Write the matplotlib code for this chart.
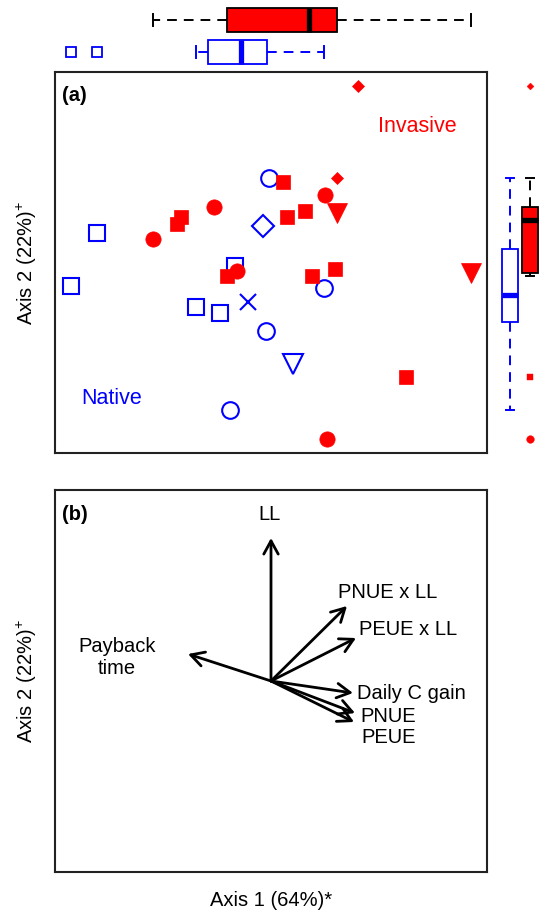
import numpy as np
import matplotlib
matplotlib.use("Agg")
import matplotlib.pyplot as plt

plt.rcParams['font.family'] = ['Liberation Sans', 'DejaVu Sans']
plt.rcParams['mathtext.fontset'] = 'custom'
plt.rcParams['mathtext.rm'] = 'Liberation Sans'
plt.rcParams['mathtext.it'] = 'Liberation Sans:italic'
plt.rcParams['mathtext.bf'] = 'Liberation Sans:bold'

# ---------------- data ----------------
# Invasive species scores (Axis 1, Axis 2) and species symbol
inv_x = [0.88, 0.67, 0.13, 0.55, -0.57, -0.90, -0.94, 0.17, 0.35, 0.67,
         -1.18, -0.34, -0.44, 0.42, 0.65, 2.01, 1.36, 0.57]
inv_y = [1.75, 0.84, 0.80, 0.67, 0.55, 0.45, 0.38, 0.45, 0.51, 0.49,
         0.23, -0.09, -0.14, -0.14, -0.07, -0.11, -1.14, -1.76]
inv_shape = ['diamond', 'diamond', 'square', 'circle', 'circle', 'square', 'square',
             'square', 'square', 'triangle', 'circle', 'circle', 'square', 'square',
             'square', 'triangle', 'square', 'circle']

# Native species scores
nat_x = [-0.02, -0.08, -1.74, -0.36, -2.00, 0.54, -0.75, -0.51, -0.23, -0.05, 0.23, -0.41]
nat_y = [0.84, 0.36, 0.29, -0.04, -0.24, -0.26, -0.45, -0.51, -0.40, -0.69, -1.01, -1.47]
nat_shape = ['circle', 'diamond', 'square', 'square', 'square', 'circle', 'square',
             'square', 'cross', 'circle', 'triangle', 'circle']

# Trait vectors (panel b)
vec_names = ['LL', 'PNUE x LL', 'PEUE x LL', 'Payback\ntime', 'Daily C gain', 'PNUE', 'PEUE']
vec_x = [0.00, 0.76, 0.85, -0.83, 0.82, 0.84, 0.83]
vec_y = [1.43, 0.75, 0.43, 0.27, -0.12, -0.32, -0.41]

group_labels = ['Native', 'Invasive']
axis1_label = 'Axis 1 (64%)*'
axis2_label = 'Axis 2 (22%)$^{+}$'

# ---------------- layout ----------------
W, H = 541, 914
RED = '#FF0000'
BLUE = '#0000FF'
FS = 14.5
FS_GROUP = 15.5


def fig_rect(x0, y0, x1, y1):
    return [x0 / W, 1 - y1 / H, (x1 - x0) / W, (y1 - y0) / H]


fig = plt.figure(figsize=(W / 100, H / 100), dpi=100)
ax_a = fig.add_axes(fig_rect(55, 72, 487, 453))
ax_b = fig.add_axes(fig_rect(55, 490, 487, 872))
ax_top = fig.add_axes(fig_rect(55, 4, 487, 68))
ax_rt = fig.add_axes(fig_rect(500, 72, 540, 453))

# styles per species symbol
inv_style = {
    'square': dict(marker='s', ms=10.5, mfc=RED, mec=RED, mew=0.5),
    'circle': dict(marker='o', ms=11, mfc=RED, mec=RED, mew=0.5),
    'triangle': dict(marker='v', ms=15, mfc=RED, mec=RED, mew=0.5),
    'diamond': dict(marker='D', ms=6.5, mfc=RED, mec=RED, mew=0.5),
}
nat_style = {
    'square': dict(marker='s', ms=11, mfc='none', mec=BLUE, mew=1.5),
    'circle': dict(marker='o', ms=12, mfc='none', mec=BLUE, mew=1.5),
    'triangle': dict(marker='v', ms=15, mfc='none', mec=BLUE, mew=1.5),
    'diamond': dict(marker='D', ms=11.5, mfc='none', mec=BLUE, mew=1.5),
    'cross': dict(marker='x', ms=12, mfc='none', mec=BLUE, mew=1.5),
}
inv_small = {
    'square': dict(marker='s', ms=5, mfc=RED, mec=RED, mew=0.3),
    'circle': dict(marker='o', ms=5.5, mfc=RED, mec=RED, mew=0.3),
    'triangle': dict(marker='v', ms=6, mfc=RED, mec=RED, mew=0.3),
    'diamond': dict(marker='D', ms=3.5, mfc=RED, mec=RED, mew=0.3),
}
nat_small = {
    'square': dict(marker='s', ms=6.5, mfc='none', mec=BLUE, mew=1.3),
    'circle': dict(marker='o', ms=6.5, mfc='none', mec=BLUE, mew=1.3),
    'triangle': dict(marker='v', ms=7, mfc='none', mec=BLUE, mew=1.3),
    'diamond': dict(marker='D', ms=6, mfc='none', mec=BLUE, mew=1.3),
    'cross': dict(marker='x', ms=6.5, mfc='none', mec=BLUE, mew=1.3),
}


def pad_lim(*arrays):
    v = np.concatenate([np.asarray(a, float) for a in arrays])
    lo, hi = v.min(), v.max()
    p = 0.04 * (hi - lo)
    return lo - p, hi + p


def r_box_stats(v):
    x = np.sort(np.asarray(v, float))
    n = len(x)
    n4 = np.floor((n + 3) / 2) / 2
    d = np.array([1, n4, (n + 1) / 2, n + 1 - n4, n]) - 1
    fn = 0.5 * (x[np.floor(d).astype(int)] + x[np.ceil(d).astype(int)])
    iqr = fn[3] - fn[1]
    vv = np.asarray(v, float)
    out = (vv < fn[1] - 1.5 * iqr) | (vv > fn[3] + 1.5 * iqr)
    inside = vv[~out]
    st = dict(med=fn[2], q1=fn[1], q3=fn[3], whislo=inside.min(), whishi=inside.max(), fliers=[])
    return st, out


# ---------------- panel (a) ----------------
xlim_a = pad_lim(inv_x, nat_x)
ylim_a = pad_lim(inv_y, nat_y)
for x, y, s in zip(nat_x, nat_y, nat_shape):
    ax_a.plot([x], [y], linestyle='none', **nat_style[s])
for x, y, s in zip(inv_x, inv_y, inv_shape):
    ax_a.plot([x], [y], linestyle='none', **inv_style[s])
ax_a.set_xlim(xlim_a)
ax_a.set_ylim(ylim_a)
ax_a.set_xticks([])
ax_a.set_yticks([])
ax_a.text(1.47, 1.35, group_labels[1], color=RED, fontsize=FS_GROUP, ha='center', va='center')
ax_a.text(-1.59, -1.36, group_labels[0], color=BLUE, fontsize=FS_GROUP, ha='center', va='center')
ax_a.text(0.016, 0.962, '(a)', transform=ax_a.transAxes, fontsize=FS, fontweight='bold',
          ha='left', va='top')

# ---------------- marginal boxplots ----------------
dash = (0, (5, 3.6))


def draw_box(ax, values, shapes, pos, color, face, edge, orient, small):
    st, out = r_box_stats(values)
    ax.bxp([st], positions=[pos], widths=0.75 if orient == 'horizontal' else 0.8,
           orientation=orient, patch_artist=True, showfliers=False,
           boxprops=dict(facecolor=face, edgecolor=edge, linewidth=1.3),
           whiskerprops=dict(color=edge, linewidth=1.4, linestyle=dash),
           capprops=dict(color=edge, linewidth=1.4),
           medianprops=dict(color=edge, linewidth=3.8, solid_capstyle='butt'))
    for v, s, o in zip(values, shapes, out):
        if o:
            if orient == 'horizontal':
                ax.plot([v], [pos], linestyle='none', **small[s])
            else:
                ax.plot([pos], [v], linestyle='none', **small[s])


draw_box(ax_top, nat_x, nat_shape, 1, BLUE, 'white', BLUE, 'horizontal', nat_small)
draw_box(ax_top, inv_x, inv_shape, 2, RED, RED, 'black', 'horizontal', inv_small)
ax_top.set_xlim(xlim_a)
ax_top.set_ylim(0.5, 2.5)
ax_top.axis('off')

draw_box(ax_rt, nat_y, nat_shape, 1, BLUE, 'white', BLUE, 'vertical', nat_small)
draw_box(ax_rt, inv_y, inv_shape, 2, RED, RED, 'black', 'vertical', inv_small)
ax_rt.set_ylim(ylim_a)
ax_rt.set_xlim(0.5, 2.5)
ax_rt.axis('off')

# ---------------- panel (b) ----------------
ax_b.set_xlim(-2.16, 2.16)
ax_b.set_ylim(-1.91, 1.91)
ax_b.set_xticks([])
ax_b.set_yticks([])
for vx, vy in zip(vec_x, vec_y):
    ax_b.annotate('', xy=(vx, vy), xytext=(0, 0),
                  arrowprops=dict(arrowstyle='->,head_length=0.95,head_width=0.52',
                                  lw=2.0, color='black', shrinkA=0, shrinkB=0,
                                  mutation_scale=10))

label_pos = [(-0.01, 1.66, 'center'), (0.673, 0.883, 'left'), (0.883, 0.517, 'left'),
             (-1.54, 0.24, 'center'), (0.863, -0.123, 'left'), (0.89, -0.35, 'left'),
             (0.907, -0.567, 'left')]
for name, (lx, ly, ha) in zip(vec_names, label_pos):
    ax_b.text(lx, ly, name, fontsize=FS, ha=ha, va='center', linespacing=1.2)
ax_b.text(0.016, 0.962, '(b)', transform=ax_b.transAxes, fontsize=FS, fontweight='bold',
          ha='left', va='top')

for ax in (ax_a, ax_b):
    for sp in ax.spines.values():
        sp.set_linewidth(1.5)
        sp.set_color('#222222')

# ---------------- axis titles ----------------
fig.text(27 / W, 1 - 263 / H, axis2_label, rotation=90, fontsize=FS, ha='center', va='center')
fig.text(27 / W, 1 - 681 / H, axis2_label, rotation=90, fontsize=FS, ha='center', va='center')
fig.text(271 / W, 1 - 901 / H, axis1_label, fontsize=FS, ha='center', va='center')

fig.savefig('out.png', dpi=100)
